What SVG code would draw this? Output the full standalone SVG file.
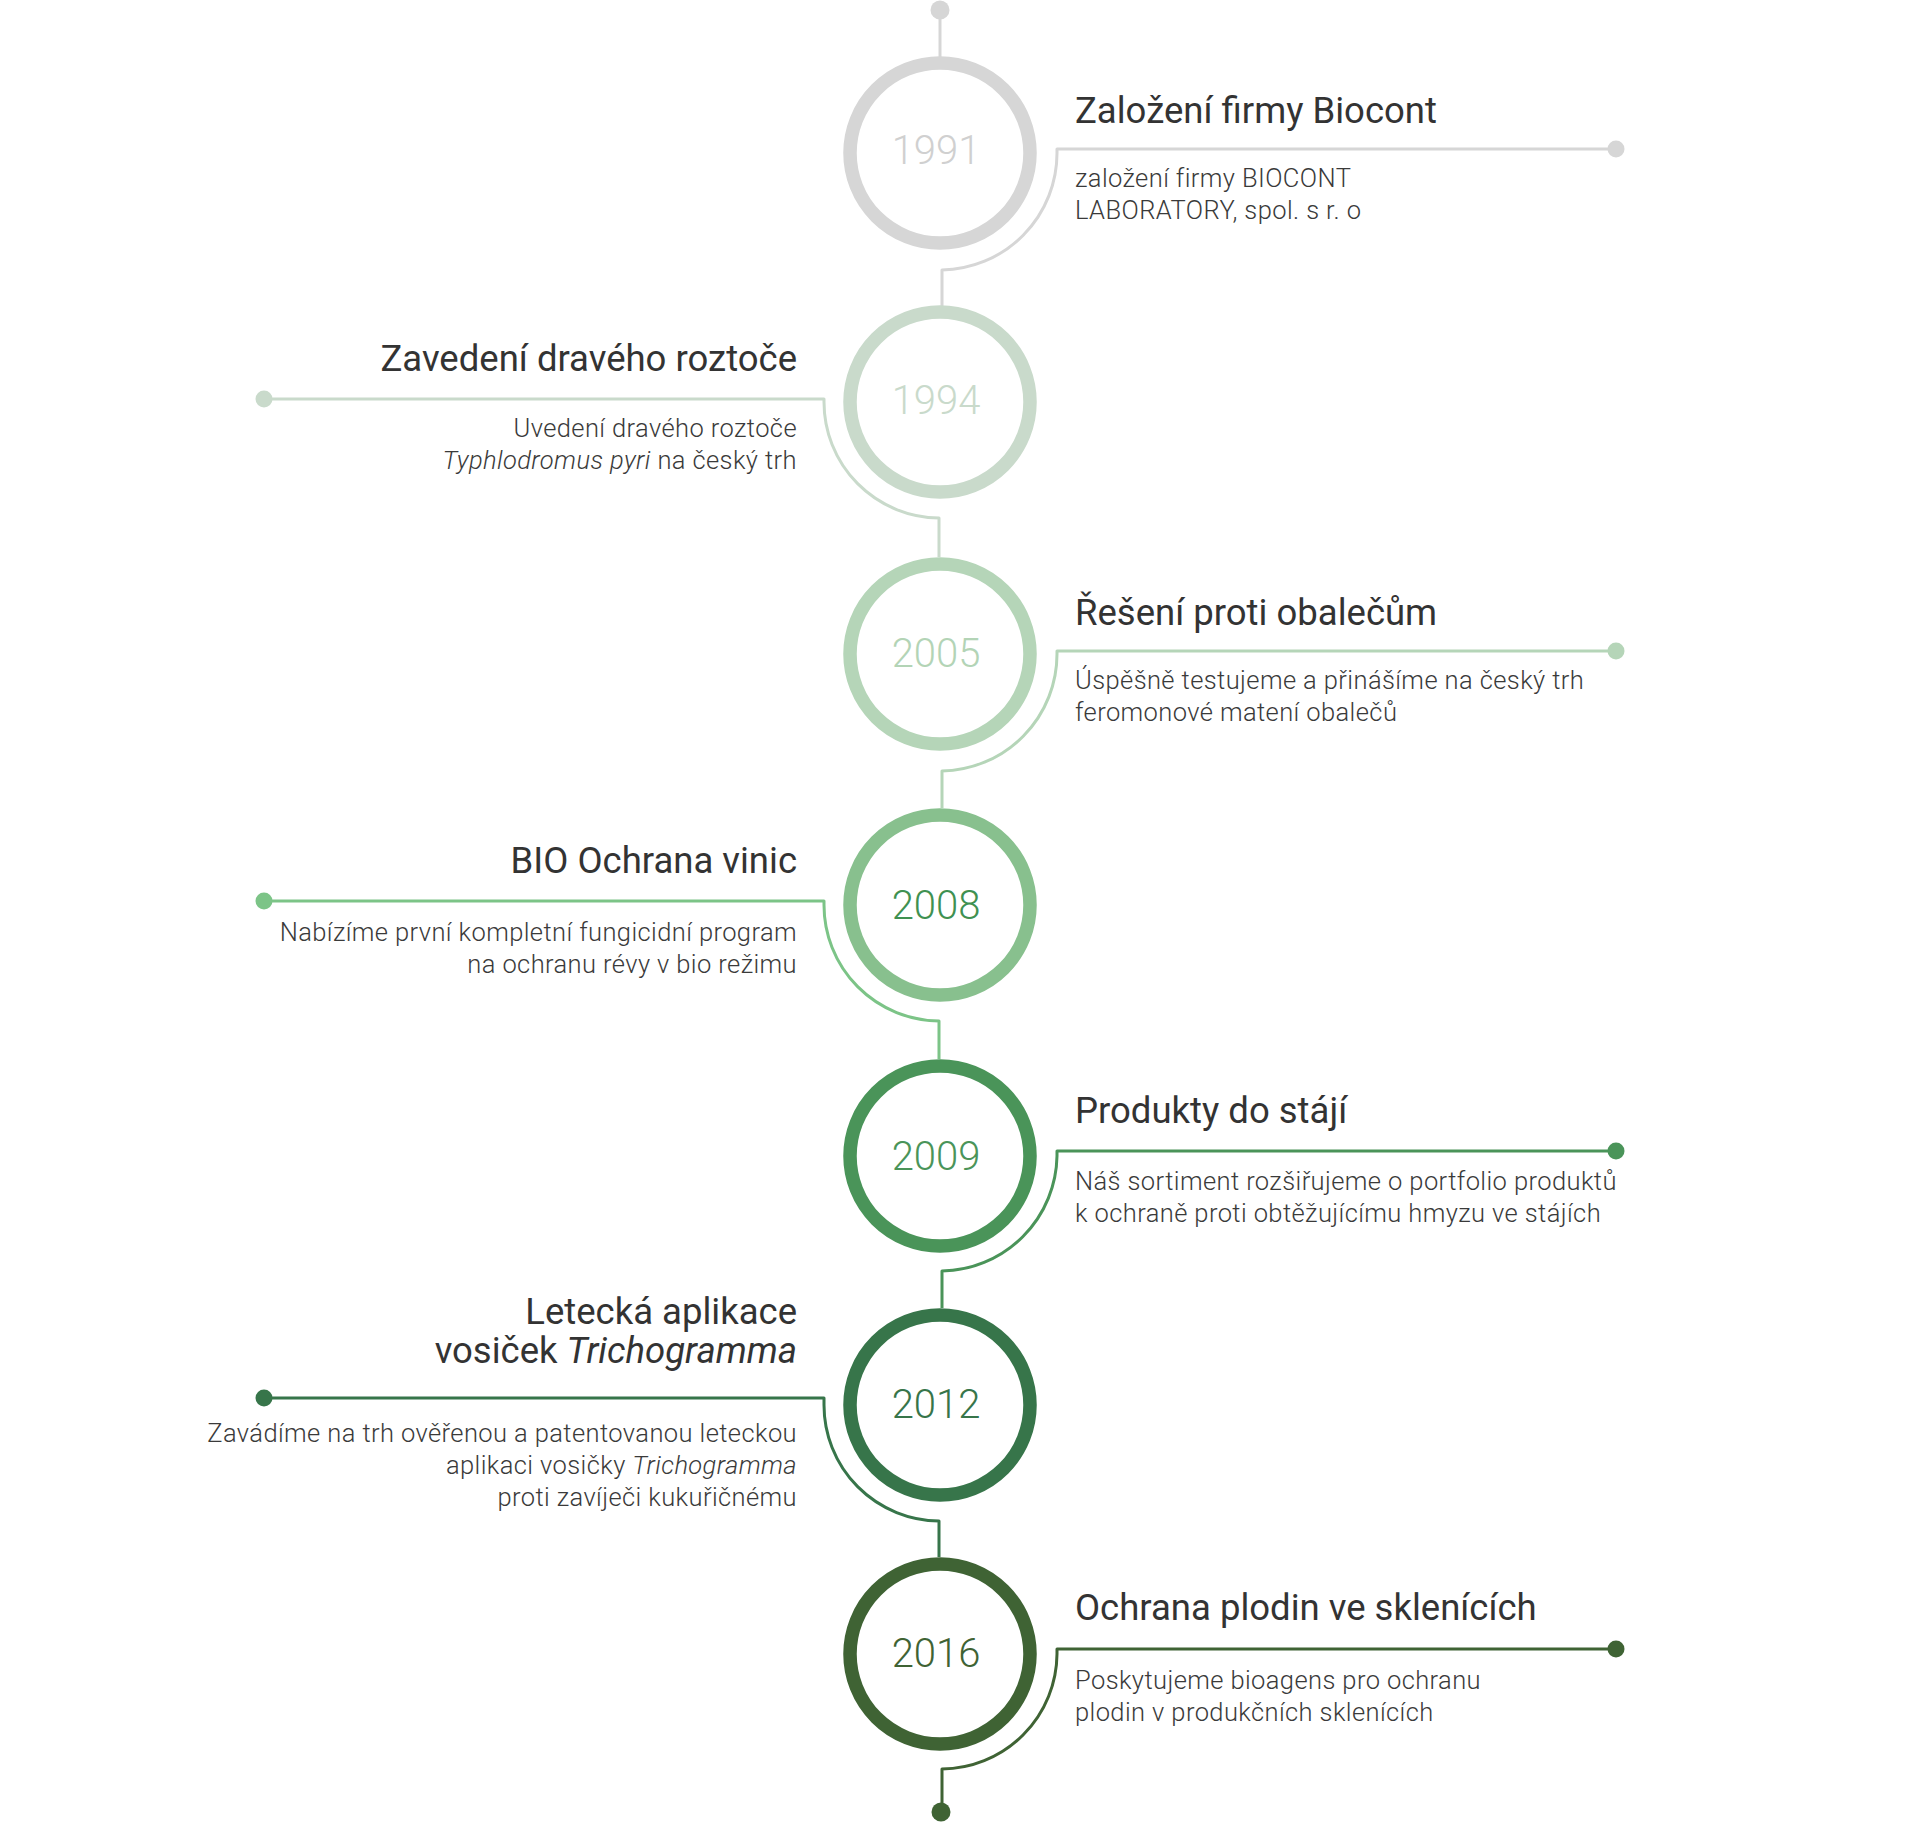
<svg xmlns="http://www.w3.org/2000/svg" width="1920" height="1823" viewBox="0 0 1920 1823">
<style>
.bg{fill:#fff}
.ring{fill:none;stroke-width:13.5}
.con{fill:none;stroke-width:3;stroke-linejoin:round}
.yr{font-family:Roboto,"Liberation Sans",sans-serif;font-weight:300;font-size:40px;text-anchor:middle}
.tt{font-family:Roboto,"Liberation Sans",sans-serif;font-weight:400;font-size:36.5px;fill:#333}
.ds{font-family:Roboto,"Liberation Sans",sans-serif;font-weight:300;font-size:25.5px;letter-spacing:0.4px;fill:#3a3a3a}
.l{text-anchor:end}
.it{font-style:italic}
</style>
<rect class="bg" x="0" y="0" width="1920" height="1823"/>
<g id="connectors">
  <g stroke="#d6d6d6" fill="#d6d6d6">
    <circle cx="940" cy="10" r="9.5" stroke="none"/>
    <path class="con" d="M940,10 V57"/>
    <path class="con" d="M1616,149 H1057 V153 A117,117 0 0 1 942,270 V306"/>
    <circle cx="1616" cy="149" r="8.5" stroke="none"/>
  </g>
  <g stroke="#c9dacb" fill="#c9dacb">
    <path class="con" d="M264,399 H824 V402 A116,116 0 0 0 939,518 V557"/>
    <circle cx="264" cy="399" r="8.5" stroke="none"/>
  </g>
  <g stroke="#b5d5b8" fill="#b5d5b8">
    <path class="con" d="M1616,651 H1057 V654 A117,117 0 0 1 942,771 V808"/>
    <circle cx="1616" cy="651" r="8.5" stroke="none"/>
  </g>
  <g stroke="#7cc487" fill="#7cc487">
    <path class="con" d="M264,901 H824 V905 A116,116 0 0 0 939,1021 V1059"/>
    <circle cx="264" cy="901" r="8.5" stroke="none"/>
  </g>
  <g stroke="#4a9459" fill="#4a9459">
    <path class="con" d="M1616,1151 H1057 V1156 A117,117 0 0 1 942,1271 V1308"/>
    <circle cx="1616" cy="1151" r="8.5" stroke="none"/>
  </g>
  <g stroke="#37754a" fill="#37754a">
    <path class="con" d="M264,1398 H824 V1405 A116,116 0 0 0 939,1521 V1557"/>
    <circle cx="264" cy="1398" r="8.5" stroke="none"/>
  </g>
  <g stroke="#3f6334" fill="#3f6334">
    <path class="con" d="M1616,1649 H1057 V1654 A116,116 0 0 1 942,1769 V1812"/>
    <circle cx="1616" cy="1649" r="8.5" stroke="none"/>
    <circle cx="941" cy="1812" r="9.5" stroke="none"/>
  </g>
</g>
<g id="n1991">
  <circle class="ring" cx="940" cy="153" r="90" stroke="#d6d6d6"/>
  <text class="yr" x="936" y="164" fill="#d0d0d0">1991</text>
  <text class="tt" x="1075" y="123">Založení firmy Biocont</text>
  <text class="ds" x="1075" y="187">založení firmy BIOCONT</text>
  <text class="ds" x="1075" y="219">LABORATORY, spol. s r. o</text>
</g>
<g id="n1994">
  <circle class="ring" cx="940" cy="402" r="90" stroke="#c9dacb"/>
  <text class="yr" x="936" y="414" fill="#c9dacb">1994</text>
  <text class="tt l" x="797" y="371">Zavedení dravého roztoče</text>
  <text class="ds l" x="797" y="437">Uvedení dravého roztoče</text>
  <text class="ds l" x="797" y="469"><tspan class="it">Typhlodromus pyri</tspan> na český trh</text>
</g>
<g id="n2005">
  <circle class="ring" cx="940" cy="654" r="90" stroke="#b5d5b8"/>
  <text class="yr" x="936" y="667" fill="#b3d4b6">2005</text>
  <text class="tt" x="1075" y="625">Řešení proti obalečům</text>
  <text class="ds" x="1075" y="689">Úspěšně testujeme a přinášíme na český trh</text>
  <text class="ds" x="1075" y="721">feromonové matení obalečů</text>
</g>
<g id="n2008">
  <circle class="ring" cx="940" cy="905" r="90" stroke="#88c08e"/>
  <text class="yr" x="936" y="919" fill="#3f9151">2008</text>
  <text class="tt l" x="797" y="873">BIO Ochrana vinic</text>
  <text class="ds l" x="797" y="941">Nabízíme první kompletní fungicidní program</text>
  <text class="ds l" x="797" y="973">na ochranu révy v bio režimu</text>
</g>
<g id="n2009">
  <circle class="ring" cx="940" cy="1156" r="90" stroke="#4a9459"/>
  <text class="yr" x="936" y="1170" fill="#4a9459">2009</text>
  <text class="tt" x="1075" y="1123">Produkty do stájí</text>
  <text class="ds" x="1075" y="1190">Náš sortiment rozšiřujeme o portfolio produktů</text>
  <text class="ds" x="1075" y="1222">k ochraně proti obtěžujícímu hmyzu ve stájích</text>
</g>
<g id="n2012">
  <circle class="ring" cx="940" cy="1405" r="90" stroke="#37754a"/>
  <text class="yr" x="936" y="1418" fill="#37754a">2012</text>
  <text class="tt l" x="797" y="1324">Letecká aplikace</text>
  <text class="tt l" x="797" y="1363">vosiček <tspan class="it">Trichogramma</tspan></text>
  <text class="ds l" x="797" y="1442">Zavádíme na trh ověřenou a patentovanou leteckou</text>
  <text class="ds l" x="797" y="1474">aplikaci vosičky <tspan class="it">Trichogramma</tspan></text>
  <text class="ds l" x="797" y="1506">proti zavíječi kukuřičnému</text>
</g>
<g id="n2016">
  <circle class="ring" cx="940" cy="1654" r="90" stroke="#3f6334"/>
  <text class="yr" x="936" y="1667" fill="#3f6334">2016</text>
  <text class="tt" x="1075" y="1620">Ochrana plodin ve sklenících</text>
  <text class="ds" x="1075" y="1689">Poskytujeme bioagens pro ochranu</text>
  <text class="ds" x="1075" y="1721">plodin v produkčních sklenících</text>
</g>
</svg>
